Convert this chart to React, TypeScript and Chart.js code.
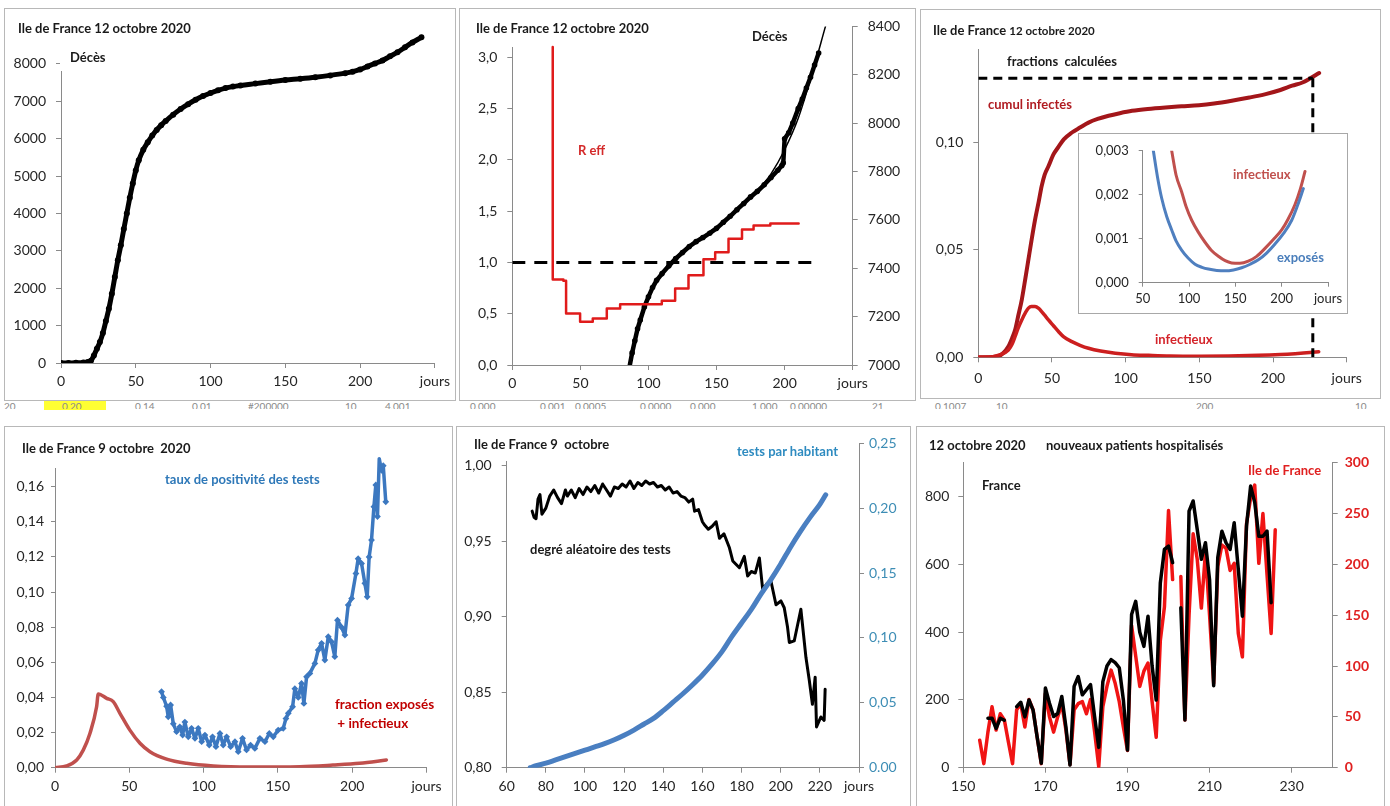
import React, { useEffect, useRef } from 'react';
import { Chart, registerables } from 'chart.js';

Chart.register(...registerables);

// ---------------- DATA ----------------
// Panel 1 : cumulative deaths, Ile de France
const DEATHS_DAYS = [0, 5, 10, 15, 18, 20, 22, 24, 26, 28, 30, 32, 34, 36, 38, 40, 42, 44, 46, 48, 50, 52, 55, 58, 61, 64, 67, 70, 75, 80, 85, 90, 95, 100, 105, 110, 115, 120, 130, 140, 150, 160, 170, 180, 190, 195, 200, 205, 210, 215, 220, 225, 230, 235, 241];
const DEATHS_VALS = [0, 0, 5, 15, 30, 60, 200, 380, 560, 800, 1120, 1450, 1850, 2300, 2750, 3150, 3580, 4000, 4420, 4800, 5150, 5420, 5700, 5900, 6080, 6230, 6360, 6470, 6640, 6790, 6920, 7040, 7140, 7220, 7290, 7350, 7390, 7420, 7470, 7520, 7565, 7600, 7640, 7690, 7750, 7790, 7850, 7930, 8010, 8090, 8200, 8310, 8440, 8570, 8707];
const P1_X_TICKS = [0, 50, 100, 150, 200, 250];
const P1_Y_TICKS = [0, 1000, 2000, 3000, 4000, 5000, 6000, 7000, 8000];

// Panel 2 : R eff (step) and deaths (right axis)
const R_DAYS = [29.7, 29.7, 37.5, 39.5, 49.8, 59.1, 69.4, 79.2, 109.8, 119.6, 129.4, 140.4, 149, 158.8, 168.7, 177.2, 189.5, 210.3];
const R_VALS = [3.1, 0.834, 0.82, 0.503, 0.421, 0.454, 0.55, 0.593, 0.625, 0.746, 0.875, 1.03, 1.1, 1.23, 1.32, 1.36, 1.38, 1.38];
const R_REF_LEVEL = 1.0;
const R_REF_END = 225;
const DEATHS2_DAYS = [86, 88, 90, 92, 94, 97, 100, 103, 106, 110, 115, 120, 125, 130, 135, 140, 145, 150, 155, 160, 165, 170, 175, 180, 185, 190, 195, 198, 199, 200, 203, 206, 210, 213, 216, 219, 222, 225];
const DEATHS2_VALS = [6990, 7050, 7100, 7150, 7186, 7240, 7282, 7320, 7350, 7378, 7410, 7440, 7465, 7490, 7510, 7527, 7545, 7565, 7590, 7615, 7642, 7668, 7695, 7718, 7745, 7775, 7805, 7825, 7835, 7935, 7960, 8000, 8060, 8100, 8145, 8190, 8240, 8290];
const FIT2_DAYS = [86, 95, 105, 120, 140, 160, 180, 190, 200, 210, 220, 230];
const FIT2_VALS = [7000, 7200, 7340, 7445, 7530, 7615, 7720, 7790, 7890, 8020, 8200, 8400];
const P2_LEFT_TICKS = [0, 0.5, 1, 1.5, 2, 2.5, 3];
const P2_RIGHT_TICKS = [7000, 7200, 7400, 7600, 7800, 8000, 8200, 8400];

// Panel 3 : computed fractions
const CUM_DAYS = [0, 10, 13.6, 17, 20.4, 23, 25, 27, 29.5, 32, 34, 36, 38.5, 41, 43, 45, 47.6, 51, 54.4, 58, 63.5, 69, 74.8, 81, 88.4, 96, 104.3, 115, 127, 138, 149.7, 160, 172, 184, 195, 205, 213, 220, 224.5, 231.3];
const CUM_VALS = [0, 0.0002, 0.0005, 0.002, 0.005, 0.009, 0.0128, 0.019, 0.0268, 0.037, 0.0455, 0.054, 0.064, 0.0725, 0.0797, 0.085, 0.089, 0.0945, 0.098, 0.1015, 0.1047, 0.107, 0.1093, 0.111, 0.1125, 0.1137, 0.1148, 0.1157, 0.1164, 0.1169, 0.1174, 0.1182, 0.1195, 0.121, 0.1226, 0.1245, 0.1265, 0.128, 0.1296, 0.1324];
const INF_DAYS = [0, 10, 15, 20.4, 23, 25, 27, 29.5, 32, 34, 36, 38.5, 41, 43, 45, 47.6, 51, 54.4, 58, 63.5, 69, 74.8, 83, 93, 104, 115.6, 130, 150, 170, 190, 205, 215, 225, 231];
const INF_VALS = [0, 0.0003, 0.0012, 0.0034, 0.0062, 0.0097, 0.0135, 0.0174, 0.0208, 0.0229, 0.0237, 0.0237, 0.0228, 0.0213, 0.0196, 0.0174, 0.0147, 0.012, 0.0095, 0.0073, 0.0056, 0.0042, 0.0029, 0.0019, 0.0012, 0.0009, 0.0006, 0.0005, 0.0006, 0.0009, 0.0013, 0.0017, 0.0022, 0.0026];
const FRAC_LEVEL = 0.13;
const FRAC_DAY = 227;
const P3_Y_TICKS = [0, 0.05, 0.1];
// Panel 3 inset
const EXP_DAYS = [61.5, 66, 70.5, 76, 81.3, 86, 92, 99, 106.5, 114, 120.9, 130, 138.8, 148, 156.8, 166, 174.8, 184, 192.8, 202, 210.8, 217, 223.4];
const EXP_VALS = [0.003, 0.0024, 0.00192, 0.0015, 0.0012, 0.00095, 0.00074, 0.00056, 0.00042, 0.00035, 0.00031, 0.00028, 0.00027, 0.00029, 0.00034, 0.00042, 0.00052, 0.00068, 0.00088, 0.00112, 0.00142, 0.00175, 0.00214];
const INFIN_DAYS = [81.3, 86, 92, 97, 102.9, 110, 117.3, 124, 131.7, 139, 146, 155, 164, 173, 182, 191, 200, 207, 214.4, 220, 225.2];
const INFIN_VALS = [0.003, 0.00245, 0.00207, 0.00172, 0.00142, 0.00115, 0.00092, 0.00074, 0.0006, 0.0005, 0.00045, 0.00044, 0.00049, 0.0006, 0.00078, 0.00098, 0.0012, 0.00145, 0.00178, 0.00212, 0.00253];
const INSET_X_TICKS = [50, 100, 150, 200, 250];
const INSET_Y_TICKS = [0, 0.001, 0.002, 0.003];

// Panel 4 : positivity rate & exposed+infectious fraction
const POS_DAYS = [71.7, 72.9, 75.1, 76.2, 77.8, 79.6, 81.8, 84, 85.9, 87.4, 89.7, 91.9, 94.2, 96.4, 98.7, 100.9, 103.8, 106, 108.3, 111, 113.2, 115.5, 118.2, 121.1, 123.3, 126.2, 128.9, 131.6, 134.5, 137.9, 141.3, 144.2, 146.9, 150.2, 153.6, 155.4, 157, 159.9, 161.4, 163.7, 165.9, 167.5, 169.3, 171.5, 174.9, 177.1, 179.4, 181.6, 183.9, 186.1, 188.3, 190.1, 192.8, 195.1, 197.3, 199.6, 202.5, 204, 206.3, 208.5, 210.1, 211.4, 213, 214.6, 215.9, 217, 218.2, 219.7, 220.9, 222.6];
const POS_VALS = [0.0433, 0.04, 0.035, 0.029, 0.0357, 0.025, 0.0205, 0.0233, 0.0186, 0.026, 0.0176, 0.0224, 0.0167, 0.0224, 0.0148, 0.0186, 0.0129, 0.0176, 0.012, 0.0195, 0.0129, 0.0176, 0.012, 0.0148, 0.0091, 0.0167, 0.0101, 0.0129, 0.011, 0.0167, 0.0148, 0.0195, 0.0176, 0.0214, 0.0224, 0.028, 0.031, 0.0347, 0.045, 0.04, 0.048, 0.0366, 0.0518, 0.0537, 0.0594, 0.067, 0.0708, 0.0613, 0.0746, 0.0717, 0.0632, 0.084, 0.08, 0.0755, 0.0926, 0.0964, 0.1106, 0.119, 0.1163, 0.105, 0.0973, 0.12, 0.1296, 0.1486, 0.161, 0.143, 0.176, 0.1694, 0.172, 0.1514];
const EI_DAYS = [0, 7.8, 14.6, 19, 23.5, 28, 29.1, 34.8, 39.2, 43.7, 50.4, 57.2, 63.9, 75.1, 88.6, 106.5, 131, 164.8, 187, 205, 223];
const EI_VALS = [0, 0.001, 0.0044, 0.01, 0.0195, 0.0347, 0.042, 0.0395, 0.0376, 0.031, 0.0214, 0.0139, 0.0091, 0.0049, 0.0025, 0.001, 0.0004, 0.0006, 0.0015, 0.0025, 0.0044];
const P4_Y_TICKS = [0, 0.02, 0.04, 0.06, 0.08, 0.1, 0.12, 0.14, 0.16];

// Panel 5 : tests per inhabitant and randomness of tests
const TESTS_DAYS = [72, 75, 80, 85, 90, 95, 100, 105, 110, 115, 120, 125, 130, 135, 140, 145, 150, 155, 160, 165, 170, 175, 180, 185, 190, 195, 200, 205, 210, 215, 220, 223];
const TESTS_VALS = [0, 0.0015, 0.0035, 0.006, 0.0085, 0.011, 0.0135, 0.016, 0.0185, 0.0215, 0.025, 0.029, 0.0335, 0.038, 0.044, 0.0505, 0.057, 0.064, 0.0715, 0.08, 0.0895, 0.101, 0.1115, 0.122, 0.134, 0.145, 0.157, 0.17, 0.182, 0.193, 0.203, 0.2104];
const RAND_DAYS = [73, 74, 75, 76, 77, 78, 80, 82, 84, 86, 88, 90, 91, 93, 95, 97, 99, 101, 103, 105, 107, 109, 111, 113, 115, 117, 119, 121, 123, 125, 127, 129, 131, 133, 135, 137, 139, 141, 143, 145, 147, 149, 151, 153, 155, 156, 158, 160, 161, 163, 165, 167, 168.7, 171, 173.8, 175.5, 177, 178.9, 181.4, 183.1, 185, 187, 189.1, 190.8, 193, 195, 197.6, 200.1, 201.8, 203.5, 204.4, 206.9, 210.3, 212.9, 214.6, 216.2, 217.6, 218.3, 220.5, 222.2, 222.7];
const RAND_VALS = [0.97, 0.966, 0.965, 0.978, 0.981, 0.968, 0.972, 0.98, 0.984, 0.979, 0.975, 0.984, 0.98, 0.984, 0.979, 0.985, 0.981, 0.986, 0.983, 0.987, 0.982, 0.988, 0.984, 0.98, 0.986, 0.985, 0.988, 0.986, 0.99, 0.985, 0.989, 0.987, 0.99, 0.988, 0.989, 0.986, 0.987, 0.984, 0.986, 0.982, 0.983, 0.98, 0.979, 0.976, 0.978, 0.97, 0.971, 0.963, 0.961, 0.958, 0.96, 0.963, 0.952, 0.955, 0.9457, 0.937, 0.935, 0.9325, 0.94, 0.927, 0.93, 0.929, 0.939, 0.918, 0.922, 0.9237, 0.908, 0.9105, 0.906, 0.893, 0.883, 0.884, 0.905, 0.873, 0.858, 0.842, 0.86, 0.827, 0.8336, 0.8314, 0.852];
const P5_X_TICKS = [60, 80, 100, 120, 140, 160, 180, 200, 220, 240];
const P5_LEFT_TICKS = [0.8, 0.85, 0.9, 0.95, 1.0];
const P5_RIGHT_TICKS = [0, 0.05, 0.1, 0.15, 0.2, 0.25];

// Panel 6 : new hospitalised patients, France vs Ile de France
const DAYS6 = [154, 155, 156, 157, 158, 159, 160, 161, 162, 163, 164, 165, 166, 167, 168, 169, 170, 171, 172, 173, 174, 175, 176, 177, 178, 179, 180, 181, 182, 183, 184, 185, 186, 187, 188, 189, 190, 191, 192, 193, 194, 195, 196, 197, 198, 199, 200, 201, 202, 203, 204, 205, 206, 207, 208, 209, 210, 211, 212, 213, 214, 215, 216, 217, 218, 219, 220, 221, 222, 223, 224, 225, 226];
const FRANCE6 = [null, null, 146, 146, 116, 146, 140, null, null, 180, 193, 150, 200, 170, 90, 13, 235, 190, 151, 160, 210, 120, 8, 240, 269, 215, 230, 245, 150, 60, 254, 300, 319, 310, 295, 200, 52, 452, 491, 400, 358, 447, 300, 200, 545, 644, 654, 605, null, 472, 141, 757, 787, 703, 615, 664, 555, 242, 620, 698, 664, 644, 723, 585, 447, 713, 831, 783, 683, 683, 698, 487, null];
const IDF6 = [27, 4, 35, 60, 37, 53, 47, 25, 4, 57, 63, 40, 67, 57, 30, 4, 73, 50, 35, 50, 63, 37, 3, 57, 63, 65, 53, 67, 35, 1, 60, 80, 96, 83, 65, 40, 17, 140, 110, 80, 95, 103, 65, 30, 125, 158, 253, 185, null, 188, 47, 150, 230, 205, 157, 212, 150, 83, 198, 219, 216, 194, 201, 132, 109, 240, 265, 278, 201, 250, 190, 132, 234];
const P6_X_TICKS = [150, 170, 190, 210, 230];
const P6_LEFT_TICKS = [0, 200, 400, 600, 800];
const P6_RIGHT_TICKS = [0, 50, 100, 150, 200, 250, 300];

// ---------------- STYLE ----------------
const FONT = 'Lato, "Open Sans", "DejaVu Sans", sans-serif';
const AXIS = '#8a8a8a';
const TXT = '#262626';

const comma = (d: number) => (v: number) => Number(v).toFixed(d).replace('.', ',');
const jours = (last: number) => (v: number) => (v === last ? 'jours' : String(v));

type ScaleOpt = {
  pos: 'left' | 'right' | 'bottom';
  min: number;
  max: number;
  ticks: number[];
  fmt: (v: number) => string;
  size: number;
  pad?: number;
  tl?: number;
  fs?: number;
  color?: string;
  bold?: boolean;
};

function sc(o: ScaleOpt): any {
  return {
    type: 'linear',
    position: o.pos,
    min: o.min,
    max: o.max,
    afterBuildTicks: (ax: any) => {
      ax.ticks = o.ticks.map((v) => ({ value: v }));
    },
    afterFit: (ax: any) => {
      if (o.pos === 'bottom') ax.height = o.size;
      else ax.width = o.size;
    },
    ticks: {
      callback: (v: any) => o.fmt(Number(v)),
      color: o.color || TXT,
      font: { family: FONT, size: o.fs || 14, weight: o.bold ? 'bold' : 'normal' },
      padding: o.pad ?? 6,
      autoSkip: false,
      maxRotation: 0,
      minRotation: 0,
    },
    grid: { display: true, drawOnChartArea: false, drawTicks: true, tickLength: o.tl ?? 5, color: AXIS, lineWidth: 1 },
    border: { display: true, color: AXIS, width: 1 },
  };
}

function line(xs: number[], ys: (number | null)[], color: string, width: number, extra: any = {}): any {
  return {
    type: 'line',
    data: xs.map((x, i) => ({ x, y: ys[i] })),
    borderColor: color,
    backgroundColor: color,
    borderWidth: width,
    pointRadius: 0,
    fill: false,
    spanGaps: false,
    tension: 0,
    borderJoinStyle: 'round',
    borderCapStyle: 'round',
    ...extra,
  };
}

function cfg(datasets: any[], scales: any, padding: any): any {
  return {
    type: 'line',
    data: { datasets },
    options: {
      responsive: false,
      maintainAspectRatio: false,
      animation: false,
      devicePixelRatio: 1,
      events: [],
      layout: { padding },
      plugins: { legend: { display: false }, tooltip: { enabled: false }, title: { display: false } },
      scales,
    },
  };
}

// ---------------- CHART BUILDERS ----------------
const build1 = () =>
  cfg(
    [line(DEATHS_DAYS, DEATHS_VALS, '#000', 5, { pointRadius: 3, pointBorderWidth: 0, cubicInterpolationMode: 'monotone' })],
    {
      x: sc({ pos: 'bottom', min: 0, max: 250, ticks: P1_X_TICKS, fmt: jours(250), size: 37, pad: 5 }),
      y: sc({ pos: 'left', min: 0, max: 9000, ticks: P1_Y_TICKS, fmt: (v) => String(v), size: 56, pad: 10 }),
    },
    { left: 0, top: 12.6, right: 17.3, bottom: 0 }
  );

const build2 = () =>
  cfg(
    [
      line([0, R_REF_END], [R_REF_LEVEL, R_REF_LEVEL], '#000', 3, { borderDash: [13, 9], borderCapStyle: 'butt', yAxisID: 'y' }),
      line(R_DAYS, R_VALS, '#e01b1b', 2.5, { stepped: true, yAxisID: 'y' }),
      line(DEATHS2_DAYS, DEATHS2_VALS, '#000', 4.5, { pointRadius: 2.8, pointBorderWidth: 0, yAxisID: 'y2' }),
      line(FIT2_DAYS, FIT2_VALS, '#000', 1.5, { cubicInterpolationMode: 'monotone', yAxisID: 'y2' }),
    ],
    {
      x: sc({ pos: 'bottom', min: 0, max: 250, ticks: P1_X_TICKS, fmt: jours(250), size: 35, pad: 5 }),
      y: sc({ pos: 'left', min: 0, max: 3.3, ticks: P2_LEFT_TICKS, fmt: comma(1), size: 54.3, pad: 10 }),
      y2: sc({ pos: 'right', min: 7000, max: 8400, ticks: P2_RIGHT_TICKS, fmt: (v) => String(v), size: 63.3, pad: 10 }),
    },
    { left: 0, top: 18, right: 0, bottom: 0 }
  );

const build3 = () =>
  cfg(
    [
      line([0, FRAC_DAY], [FRAC_LEVEL, FRAC_LEVEL], '#000', 3, { borderDash: [9, 6], borderCapStyle: 'butt' }),
      line([FRAC_DAY, FRAC_DAY], [FRAC_LEVEL, 0], '#000', 3, { borderDash: [9, 6], borderCapStyle: 'butt' }),
      line(INF_DAYS, INF_VALS, '#cc1f1f', 3.5, { cubicInterpolationMode: 'monotone' }),
      line(CUM_DAYS, CUM_VALS, '#a3161a', 4, { cubicInterpolationMode: 'monotone' }),
    ],
    {
      x: sc({ pos: 'bottom', min: 0, max: 250, ticks: P1_X_TICKS, fmt: jours(250), size: 42.7, pad: 8 }),
      y: sc({ pos: 'left', min: 0, max: 0.1435, ticks: P3_Y_TICKS, fmt: comma(2), size: 58.3, pad: 10 }),
    },
    { left: 0, top: 41.2, right: 33.3, bottom: 0 }
  );

const buildInset = () =>
  cfg(
    [
      line(EXP_DAYS, EXP_VALS, '#4f7fbf', 3, { cubicInterpolationMode: 'monotone' }),
      line(INFIN_DAYS, INFIN_VALS, '#c0504d', 3, { cubicInterpolationMode: 'monotone' }),
    ],
    {
      x: sc({ pos: 'bottom', min: 50, max: 250, ticks: INSET_X_TICKS, fmt: jours(250), size: 31.3, pad: 4, fs: 13, tl: 4 }),
      y: sc({ pos: 'left', min: 0, max: 0.003, ticks: INSET_Y_TICKS, fmt: comma(3), size: 64.7, pad: 10, fs: 13, tl: 4 }),
    },
    { left: 0, top: 10.3, right: 20, bottom: 0 }
  );

const build4 = () =>
  cfg(
    [
      line(EI_DAYS, EI_VALS, '#c0504d', 3.5, { cubicInterpolationMode: 'monotone' }),
      line(POS_DAYS, POS_VALS, '#3c78c0', 3.5, { pointStyle: 'rectRot', pointRadius: 3.4, pointBorderWidth: 0, clip: false }),
    ],
    {
      x: sc({ pos: 'bottom', min: 0, max: 250, ticks: P1_X_TICKS, fmt: jours(250), size: 38.3, pad: 5 }),
      y: sc({ pos: 'left', min: 0, max: 0.1705, ticks: P4_Y_TICKS, fmt: comma(2), size: 50, pad: 7, tl: 4 }),
    },
    { left: 0, top: 43.3, right: 26.5, bottom: 0 }
  );

const build5 = () =>
  cfg(
    [
      line(TESTS_DAYS, TESTS_VALS, '#4a7fc1', 5, { yAxisID: 'y2', cubicInterpolationMode: 'monotone' }),
      line(RAND_DAYS, RAND_VALS, '#000', 3, { yAxisID: 'y' }),
    ],
    {
      x: sc({ pos: 'bottom', min: 60, max: 240, ticks: P5_X_TICKS, fmt: jours(240), size: 38.3, pad: 5 }),
      y: sc({ pos: 'left', min: 0.8, max: 1.0149, ticks: P5_LEFT_TICKS, fmt: comma(2), size: 49.7, pad: 10 }),
      y2: sc({ pos: 'right', min: 0, max: 0.25, ticks: P5_RIGHT_TICKS, fmt: (v) => (v === 0 ? '0.00' : comma(2)(v)), size: 51, pad: 5, color: '#3d8db5' }),
    },
    { left: 0, top: 16.7, right: 0, bottom: 0 }
  );

const build6 = () =>
  cfg(
    [
      line(DAYS6, FRANCE6, '#000', 3.5, { yAxisID: 'y' }),
      line(DAYS6, IDF6, '#f01414', 3.5, { yAxisID: 'y2' }),
    ],
    {
      x: sc({ pos: 'bottom', min: 150, max: 240, ticks: P6_X_TICKS, fmt: (v) => String(v), size: 38.3, pad: 5 }),
      y: sc({ pos: 'left', min: 0, max: 900, ticks: P6_LEFT_TICKS, fmt: (v) => String(v), size: 47.3, pad: 9 }),
      y2: sc({ pos: 'right', min: 0, max: 300, ticks: P6_RIGHT_TICKS, fmt: (v) => String(v), size: 52.3, pad: 7, color: '#e02020', bold: true }),
    },
    { left: 0, top: 37.7, right: 0, bottom: 0 }
  );

// ---------------- COMPONENTS ----------------
function ChartBox({ x, y, w, h, build }: { x: number; y: number; w: number; h: number; build: () => any }) {
  const ref = useRef<HTMLCanvasElement | null>(null);
  useEffect(() => {
    const chart = new Chart(ref.current as HTMLCanvasElement, build());
    return () => chart.destroy();
  }, []);
  return (
    <div style={{ position: 'absolute', left: x, top: y, width: w, height: h }}>
      <canvas ref={ref} width={w} height={h} style={{ width: w, height: h, display: 'block' }} />
    </div>
  );
}

type Lbl = { t: React.ReactNode; x: number; y: number; c?: string; s?: number; b?: boolean; bg?: boolean };

function Label({ t, x, y, c = '#1a1a1a', s = 13, b = true, bg = false }: Lbl) {
  return (
    <div
      style={{
        position: 'absolute',
        left: x,
        top: y - s * 0.6,
        fontFamily: FONT,
        fontSize: s,
        fontWeight: b ? 700 : 400,
        lineHeight: 1.2,
        color: c,
        whiteSpace: 'pre',
        background: bg ? '#fff' : 'transparent',
      }}
    >
      {t}
    </div>
  );
}

function Rect({ x, y, w, h, border, bg }: { x: number; y: number; w: number; h: number; border?: string; bg?: string }) {
  return (
    <div
      style={{
        position: 'absolute',
        left: x,
        top: y,
        width: w,
        height: h,
        boxSizing: 'border-box',
        border: border ? `1px solid ${border}` : 'none',
        background: bg || 'transparent',
      }}
    />
  );
}

const STRIP = [
  ['20', 4], ['0,20', 62], ['0,14', 135], ['0,01', 192], ['#200000', 248], ['10', 345], ['4,001', 385],
  ['0,000', 470], ['0,001', 540], ['0,0005', 575], ['0,0000', 640], ['0,000', 690], ['1,000', 752], ['0,00000', 790],
  ['21', 872], ['0,1007', 935], ['10', 996], ['200', 1196], ['10', 1355],
] as [string, number][];

export default function App() {
  return (
    <div style={{ position: 'fixed', left: 0, top: 0, width: 1390, height: 806, background: '#fff', overflow: 'hidden' }}>
      {/* panel frames */}
      <Rect x={4} y={8} w={452} h={393} border="#b8b8b8" />
      <Rect x={459} y={8} w={457} h={393} border="#b8b8b8" />
      <Rect x={920} y={9} w={461} h={390} border="#b8b8b8" />
      <Rect x={4} y={426} w={449} h={400} border="#b8b8b8" />
      <Rect x={456} y={426} w={455} h={400} border="#b8b8b8" />
      <Rect x={916} y={426} w={469} h={400} border="#b8b8b8" />

      {/* spreadsheet strip between rows */}
      <Rect x={44} y={401} w={62} h={9} bg="#ffff33" />
      <div style={{ position: 'absolute', left: 0, top: 401, width: 1390, height: 8, overflow: 'hidden' }}>
        {STRIP.map(([t, x], i) => (
          <div key={i} style={{ position: 'absolute', left: x, top: 0, fontFamily: FONT, fontSize: 10, color: '#8a8a8a', lineHeight: 1 }}>
            {t}
          </div>
        ))}
      </div>

      <ChartBox x={5} y={8} w={450} h={392} build={build1} />
      <ChartBox x={458} y={8} w={458} h={392} build={build2} />
      <ChartBox x={920} y={8} w={460} h={392} build={build3} />
      <ChartBox x={5} y={425} w={448} h={381} build={build4} />
      <ChartBox x={457} y={425} w={453} h={381} build={build5} />
      <ChartBox x={916} y={425} w={469} h={381} build={build6} />

      {/* panel 1 texts */}
      <Rect x={59.5} y={36} w={62} h={35} bg="#fff" />
      <Label t="Ile de France 12 octobre 2020" x={18} y={29} bg />
      <Label t="Décès" x={70} y={58} />

      {/* panel 2 texts */}
      <Rect x={505} y={20} w={15} h={27} bg="#fff" />
      <Label t="Ile de France 12 octobre 2020" x={476} y={29} bg />
      <Label t="Décès" x={752} y={37} />
      <Label t="R eff" x={578} y={151} c="#d42a2a" />

      {/* panel 3 texts */}
      <Label t={<span>Ile de France <span style={{ fontSize: 11.5 }}>12 octobre 2020</span></span>} x={933} y={31} />
      <Label t="fractions  calculées" x={1007} y={62} />
      <Label t="cumul infectés" x={988} y={105} c="#b01c22" />
      <Label t="infectieux" x={1155} y={340} c="#d4242a" />

      {/* panel 3 inset */}
      <div style={{ position: 'absolute', left: 1078, top: 133, width: 270, height: 181, background: '#fff', border: '1px solid #a8a8a8', boxSizing: 'border-box' }} />
      <ChartBox x={1078} y={133} w={270} h={181} build={buildInset} />
      <Label t="infectieux" x={1233} y={175} c="#c0504d" />
      <Label t="exposés" x={1277} y={258} c="#4a7ebb" />

      {/* panel 4 texts */}
      <Label t="Ile de France 9 octobre  2020" x={22} y={449} />
      <Label t="taux de positivité des tests" x={165} y={480} c="#2e78b8" />
      <Label t="fraction exposés" x={335} y={704} c="#c00000" s={13.5} />
      <Label t=" + infectieux" x={334} y={723} c="#c00000" s={13.5} />

      {/* panel 5 texts */}
      <Rect x={500} y={436} w={14} h={25} bg="#fff" />
      <Label t="Ile de France 9  octobre" x={474} y={445} bg />
      <Label t="tests par habitant" x={737} y={452} c="#2e8bc0" />
      <Label t="degré aléatoire des tests" x={530} y={550} />

      {/* panel 6 texts */}
      <Label t="12 octobre 2020" x={929} y={446} />
      <Label t="nouveaux patients hospitalisés" x={1046} y={446} />
      <Label t="France" x={982} y={486} />
      <Label t="Ile de France" x={1248} y={471} c="#e02020" />
    </div>
  );
}
